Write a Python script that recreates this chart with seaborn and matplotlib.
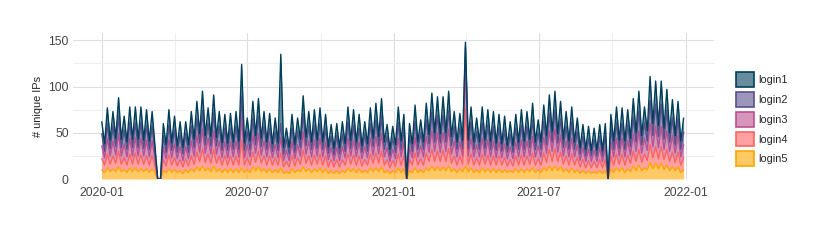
import pandas as pd
import numpy as np
import seaborn as sns
import matplotlib.pyplot as plt
import matplotlib.dates as mdates
from matplotlib.colors import to_rgba
from matplotlib.patches import Patch

# weekly samples: midweek peak (Wednesday) and weekend low
login5_peak = [10, 12, 11, 13, 10, 12, 12, 11, 11, 11, 0, 9, 11, 10, 9, 10, 11, 13, 14, 12,
               14, 11, 11, 11, 11, 12, 10, 13, 13, 11, 11, 10, 12, 8, 11, 10, 13, 11, 11, 12,
               11, 9, 9, 9, 12, 11, 11, 9, 12, 12, 13, 9, 9, 12, 11, 9, 12, 10, 12, 14,
               13, 13, 14, 11, 11, 14, 12, 10, 12, 11, 11, 11, 10, 9, 11, 11, 11, 12, 10, 12,
               14, 14, 13, 11, 12, 10, 9, 9, 8, 9, 9, 11, 12, 12, 11, 14, 15, 12, 18, 17,
               17, 15, 13, 13, 10]
login4_peak = [12, 15, 14, 17, 13, 15, 16, 15, 14, 14, 0, 12, 15, 13, 12, 12, 14, 16, 19, 15,
               18, 14, 14, 14, 14, 30, 13, 16, 17, 14, 14, 13, 16, 11, 14, 13, 18, 14, 15, 15,
               14, 12, 12, 12, 15, 15, 14, 12, 15, 16, 17, 12, 11, 15, 14, 12, 16, 12, 16, 18,
               17, 18, 19, 14, 14, 62, 15, 13, 15, 15, 14, 14, 13, 12, 14, 15, 14, 16, 12, 16,
               18, 19, 16, 14, 15, 13, 12, 11, 11, 12, 12, 14, 15, 15, 15, 16, 17, 15, 19, 18,
               18, 17, 16, 16, 13]
login3_peak = [14, 17, 16, 19, 15, 17, 17, 18, 17, 16, 0, 13, 16, 15, 14, 13, 16, 18, 21, 17,
               20, 16, 15, 15, 16, 25, 14, 18, 19, 16, 15, 14, 17, 12, 15, 14, 20, 16, 16, 17,
               15, 13, 13, 14, 17, 16, 15, 14, 17, 18, 19, 13, 12, 17, 15, 13, 17, 14, 18, 20,
               20, 19, 21, 16, 15, 45, 17, 14, 17, 16, 16, 15, 15, 14, 15, 16, 16, 18, 14, 17,
               20, 21, 18, 16, 17, 14, 13, 12, 12, 13, 13, 15, 17, 17, 16, 18, 20, 17, 23, 22,
               22, 20, 18, 18, 14]
login2_peak = [13, 16, 16, 19, 15, 17, 16, 17, 16, 16, 0, 13, 16, 15, 13, 14, 16, 18, 20, 16,
               19, 16, 15, 15, 16, 22, 14, 18, 19, 16, 15, 14, 15, 12, 15, 14, 19, 16, 16, 16,
               15, 12, 13, 13, 17, 16, 15, 13, 16, 18, 19, 12, 12, 17, 15, 13, 17, 14, 18, 20,
               19, 19, 20, 16, 15, 22, 17, 14, 17, 16, 16, 15, 15, 13, 15, 16, 16, 18, 14, 17,
               19, 20, 18, 16, 17, 14, 12, 12, 12, 12, 13, 15, 17, 16, 16, 19, 21, 17, 25, 24,
               24, 22, 19, 18, 14]
login1_peak = [13, 17, 16, 20, 15, 17, 17, 17, 17, 16, 0, 13, 17, 15, 14, 13, 16, 19, 21, 17,
               20, 16, 15, 16, 16, 35, 15, 19, 19, 16, 16, 15, 75, 12, 15, 15, 20, 16, 17, 17,
               15, 13, 13, 14, 17, 17, 15, 14, 17, 18, 19, 13, 13, 17, 15, 13, 18, 14, 18, 21,
               20, 20, 21, 16, 16, 5, 17, 15, 17, 17, 16, 15, 15, 14, 15, 17, 16, 18, 14, 18,
               20, 21, 19, 16, 17, 15, 13, 13, 12, 13, 13, 15, 17, 17, 17, 20, 22, 17, 26, 25,
               25, 23, 20, 19, 15]

login5_low = [7, 8, 8, 8, 7, 8, 8, 8, 7, 7, 0, 7, 7, 7, 6, 7, 8, 9, 9, 8,
              8, 7, 7, 7, 7, 7, 7, 9, 8, 7, 7, 7, 6, 6, 7, 8, 8, 7, 8, 7,
              6, 6, 6, 7, 8, 7, 7, 7, 8, 8, 7, 6, 7, 7, 0, 7, 7, 7, 9, 9,
              9, 9, 8, 7, 8, 8, 7, 7, 8, 7, 7, 7, 7, 7, 7, 7, 8, 7, 7, 9,
              9, 9, 8, 7, 7, 6, 6, 6, 6, 6, 0, 7, 8, 7, 8, 9, 9, 10, 11, 11,
              10, 9, 9, 7]
login4_low = [8, 8, 9, 8, 8, 8, 8, 8, 8, 7, 0, 7, 8, 7, 7, 7, 8, 10, 9, 9,
              9, 8, 8, 8, 8, 8, 8, 9, 9, 8, 8, 8, 7, 7, 7, 8, 9, 8, 8, 8,
              7, 7, 7, 8, 8, 8, 7, 8, 9, 9, 8, 6, 7, 8, 0, 8, 8, 8, 10, 10,
              10, 10, 9, 8, 8, 8, 8, 8, 8, 8, 8, 8, 7, 7, 8, 8, 8, 8, 8, 9,
              10, 10, 8, 8, 8, 7, 6, 6, 6, 6, 0, 8, 8, 8, 9, 10, 9, 10, 12, 11,
              11, 10, 9, 8]
login3_low = [8, 9, 9, 9, 9, 9, 9, 9, 9, 8, 0, 8, 8, 8, 7, 8, 9, 10, 10, 10,
              10, 8, 8, 9, 9, 8, 9, 10, 9, 9, 8, 8, 7, 7, 8, 9, 10, 9, 9, 9,
              8, 7, 7, 8, 9, 9, 8, 8, 9, 10, 9, 7, 8, 9, 0, 8, 9, 9, 10, 11,
              10, 11, 10, 9, 9, 9, 9, 9, 9, 9, 8, 8, 8, 8, 9, 9, 9, 9, 9, 10,
              11, 10, 9, 9, 9, 7, 7, 7, 7, 7, 0, 9, 9, 9, 9, 11, 10, 11, 12, 12,
              11, 11, 10, 9]
login2_low = [7, 8, 9, 9, 8, 9, 9, 8, 8, 7, 0, 7, 8, 7, 7, 7, 9, 10, 9, 9,
              9, 8, 8, 8, 8, 8, 8, 9, 9, 8, 7, 8, 7, 7, 7, 9, 9, 8, 8, 8,
              7, 6, 7, 7, 8, 8, 7, 7, 9, 9, 8, 6, 7, 8, 0, 7, 8, 8, 9, 10,
              10, 10, 9, 8, 8, 8, 8, 8, 8, 8, 8, 7, 7, 7, 8, 8, 9, 8, 8, 9,
              10, 10, 9, 8, 8, 7, 6, 6, 6, 6, 0, 8, 8, 8, 9, 10, 9, 10, 12, 12,
              11, 10, 9, 8]
login1_low = [8, 9, 9, 9, 8, 9, 9, 9, 9, 7, 0, 8, 8, 7, 7, 8, 9, 10, 10, 10,
              9, 8, 8, 8, 9, 8, 9, 10, 9, 8, 8, 8, 7, 7, 8, 9, 9, 8, 9, 8,
              7, 7, 7, 8, 9, 8, 7, 8, 9, 10, 8, 7, 8, 9, 0, 8, 8, 8, 10, 10,
              10, 10, 10, 8, 9, 9, 8, 8, 9, 9, 8, 8, 7, 7, 8, 9, 9, 8, 8, 10,
              11, 10, 9, 9, 8, 7, 7, 6, 6, 6, 0, 9, 9, 9, 9, 10, 10, 11, 13, 12,
              12, 10, 10, 9]

series = ["login1", "login2", "login3", "login4", "login5"]
colors = ["#003f5c", "#58508d", "#bc5090", "#ff6361", "#ffa600"]

peaks = {"login1": login1_peak, "login2": login2_peak, "login3": login3_peak,
         "login4": login4_peak, "login5": login5_peak}
lows = {"login1": login1_low, "login2": login2_low, "login3": login3_low,
        "login4": login4_low, "login5": login5_low}

peak_dates = pd.date_range("2020-01-01", periods=len(login1_peak), freq="7D")
low_dates = peak_dates[:len(login1_low)] + pd.Timedelta(hours=84)

df = pd.DataFrame({"date": list(peak_dates) + list(low_dates)})
for s in series:
    df[s] = peaks[s] + lows[s]
df = df.sort_values("date").reset_index(drop=True)

# stack from login5 (bottom) up to login1 (top)
order = series[::-1]
stacked = df[order].cumsum(axis=1)

sns.set_theme(style="white")
plt.rcParams["font.family"] = ["Liberation Sans", "DejaVu Sans"]

fig = plt.figure(figsize=(8.3, 2.49), dpi=100)
ax = fig.add_axes([73 / 830, 1 - 179 / 249, (714 - 73) / 830, (179 - 33) / 249])

col = dict(zip(series, colors))
lower = np.zeros(len(df))
for s in order:
    upper = stacked[s].values
    ax.fill_between(df["date"], lower, upper, color=to_rgba(col[s], 0.6), lw=0, zorder=2)
    lower = upper
for s in order:
    sns.lineplot(x=df["date"], y=stacked[s], color=col[s], lw=1.0, ax=ax, zorder=3,
                 estimator=None, sort=False)

ax.set_xlim(pd.Timestamp("2019-11-26"), pd.Timestamp("2022-02-05"))
ax.set_ylim(0, 158)

ax.xaxis.set_major_locator(mdates.MonthLocator(bymonth=[1, 7]))
ax.xaxis.set_minor_locator(mdates.MonthLocator(bymonth=[4, 10]))
ax.xaxis.set_major_formatter(mdates.DateFormatter("%Y-%m"))
ax.set_yticks([0, 50, 100, 150])
ax.set_yticks([25, 75, 125], minor=True)

ax.grid(which="major", color="#dedede", lw=0.8, zorder=0)
ax.grid(which="minor", color="#eeeeee", lw=0.8, zorder=0)
ax.set_axisbelow(True)
for sp in ax.spines.values():
    sp.set_visible(False)

ax.tick_params(axis="both", which="both", length=0, labelsize=8.8, colors="#444444")
ax.tick_params(axis="x", pad=6)
ax.tick_params(axis="y", pad=3)
ax.set_xlabel("")
ax.set_ylabel("# unique IPs", fontsize=7.9, color="#222222", labelpad=4)

handles = [Patch(facecolor=to_rgba(c, 0.6), edgecolor=c, lw=1.2) for c in colors]
fig.legend(handles, series, loc="upper left", bbox_to_anchor=(732 / 830, 1 - 68 / 249),
           frameon=False, fontsize=7.9, handlelength=1.6, handleheight=1.7,
           labelspacing=0.45, handletextpad=0.4, borderaxespad=0)

fig.savefig("out.png", dpi=100)
